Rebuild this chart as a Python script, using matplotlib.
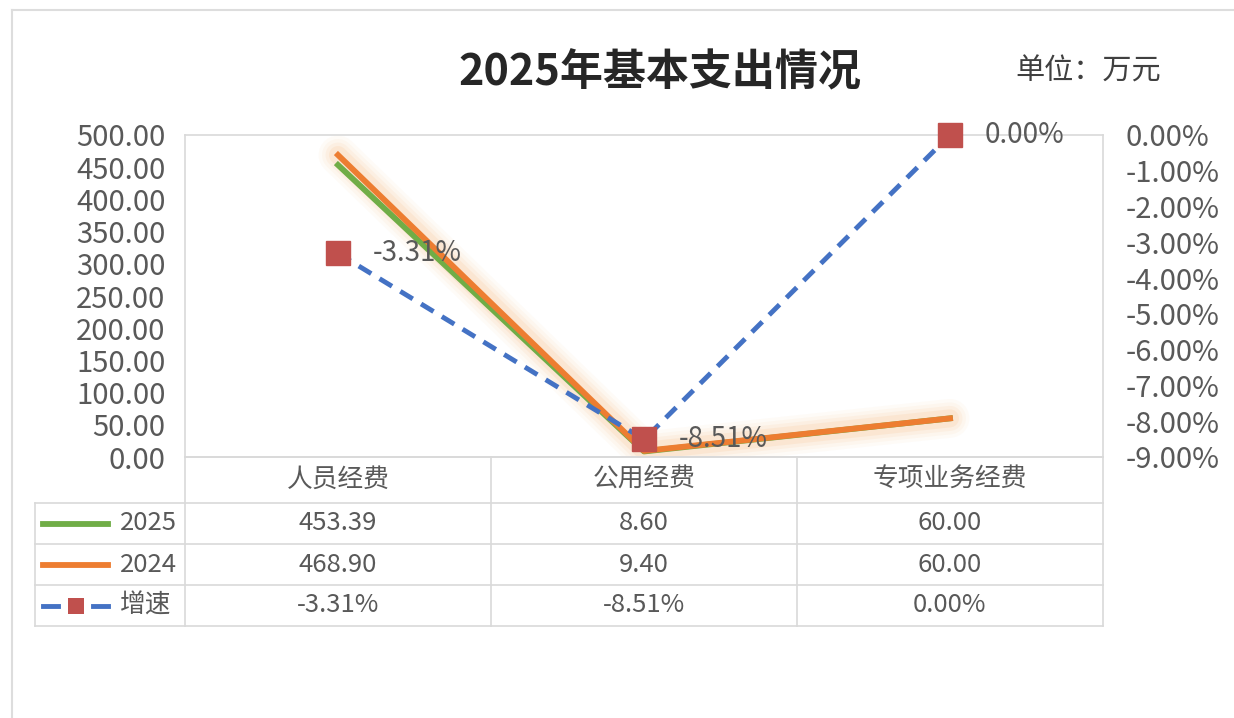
import numpy as np
import matplotlib
matplotlib.use("Agg")
import matplotlib.pyplot as plt
from matplotlib.lines import Line2D
from matplotlib.patches import Rectangle
from matplotlib.transforms import blended_transform_factory

plt.rcParams['font.family'] = ['Noto Sans CJK SC', 'DejaVu Sans']

categories = ['人员经费', '公用经费', '专项业务经费']
series_names = ['2025', '2024', '增速']
v2025 = [453.39, 8.60, 60.00]
v2024 = [468.90, 9.40, 60.00]
growth = [-3.31, -8.51, 0.00]
left_ticks = [0, 50, 100, 150, 200, 250, 300, 350, 400, 450, 500]
right_ticks = [-9, -8, -7, -6, -5, -4, -3, -2, -1, 0]
title = '2025年基本支出情况'
unit = '单位：万元'

GREEN = '#70AD47'
ORANGE = '#ED7D31'
BLUE = '#4472C4'
RED = '#C0504D'
TXT = '#595959'
GRID = '#D9D9D9'

W, H = 1234, 718
fig = plt.figure(figsize=(W / 100, H / 100), dpi=100)

def fx(px):
    return px / W

def fy(py):
    return 1 - py / H

# outer chart border
fig.add_artist(Line2D([fx(12), fx(12)], [fy(10), fy(718)], color='#DDDDDD', lw=1.5))
fig.add_artist(Line2D([fx(12), fx(1234)], [fy(10), fy(10)], color='#DDDDDD', lw=1.5))

L, R, T, B = 185, 1103, 135, 457
ax = fig.add_axes([fx(L), fy(B), (R - L) / W, (B - T) / H])
ax2 = ax.twinx()

x = np.arange(len(categories))
ax.set_xlim(-0.5, 2.5)
ax.set_ylim(0, 500)
ax2.set_ylim(-9, 0)

# glow
for lw, a in [(28, 0.04), (23, 0.05), (18, 0.07), (13, 0.1)]:
    ax.plot(x, v2024, color='#F4A04A', lw=lw, alpha=a, solid_capstyle='round', zorder=1)
ax.plot(x, v2025, color=GREEN, lw=4.2, zorder=2)
ax.plot(x, v2024, color=ORANGE, lw=4.2, zorder=3)

ax2.plot(x, growth, color=BLUE, lw=3.5, dashes=(3.0, 2.0), zorder=4)
ax2.plot(x, growth, ls='none', marker='s', ms=17, color=RED, mec=RED, zorder=5, clip_on=False)
for xi, g in zip(x, growth):
    ax2.annotate(f'{g:.2f}%', (xi, g), xytext=(25, 0), textcoords='offset points',
                 ha='left', va='center', fontsize=20, color=TXT, zorder=6)

ax.set_xticks([])
ax.set_yticks(left_ticks)
ax.set_yticklabels([f'{v:.2f}' for v in left_ticks])
ax2.set_yticks(right_ticks)
ax2.set_yticklabels([f'{v:.2f}%' for v in right_ticks])
ax.tick_params(axis='y', length=0, pad=14, labelsize=21, labelcolor=TXT)
ax2.tick_params(axis='y', length=0, pad=16, labelsize=21, labelcolor=TXT)
for sp in ax.spines.values():
    sp.set_color(GRID)
    sp.set_linewidth(1.2)
for sp in ax2.spines.values():
    sp.set_visible(False)

# data table
bt = blended_transform_factory(ax.transData, fig.transFigure)
rows_y = [457, 503, 544, 585, 626]
row_c = [(rows_y[i] + rows_y[i + 1]) / 2 for i in range(4)]

def fline(x0, x1, y0, y1, **kw):
    fig.add_artist(Line2D([fx(x0), fx(x1)], [fy(y0), fy(y1)], color=GRID, lw=1.2, **kw))

for yy in rows_y[1:]:
    fline(35, R, yy, yy)
fline(L, R, 457, 457)
fline(35, 35, 503, 626)
fline(L, L, 457, 626)
for b in [0.5, 1.5, 2.5]:
    fig.add_artist(Line2D([b, b], [fy(457), fy(626)], transform=bt, color=GRID, lw=1.2))

TS = 18.5
for xi, c in zip(x, categories):
    fig.text(xi, fy(row_c[0]), c, transform=bt, ha='center', va='center', fontsize=TS, color=TXT)
for xi, v in zip(x, v2025):
    fig.text(xi, fy(row_c[1]), f'{v:.2f}', transform=bt, ha='center', va='center', fontsize=TS, color=TXT)
for xi, v in zip(x, v2024):
    fig.text(xi, fy(row_c[2]), f'{v:.2f}', transform=bt, ha='center', va='center', fontsize=TS, color=TXT)
for xi, v in zip(x, growth):
    fig.text(xi, fy(row_c[3]), f'{v:.2f}%', transform=bt, ha='center', va='center', fontsize=TS, color=TXT)

# legend keys
fig.add_artist(Line2D([fx(43), fx(108)], [fy(row_c[1])] * 2, color=GREEN, lw=4.2))
fig.add_artist(Line2D([fx(43), fx(108)], [fy(row_c[2])] * 2, color=ORANGE, lw=4.2))
fig.add_artist(Line2D([fx(43), fx(58)], [fy(row_c[3])] * 2, color=BLUE, lw=3.5))
fig.add_artist(Line2D([fx(93), fx(108)], [fy(row_c[3])] * 2, color=BLUE, lw=3.5))
fig.add_artist(Rectangle((fx(68), fy(row_c[3] + 8)), 16 / W, 16 / H, color=RED, lw=0))
for yc, name in zip(row_c[1:], series_names):
    fig.text(fx(120), fy(yc), name, ha='left', va='center', fontsize=TS, color=TXT)

fig.text(fx(660), fy(72), title, ha='center', va='center', fontsize=31,
         fontweight='bold', color='#262626')
fig.text(fx(1088), fy(72), unit, ha='center', va='center', fontsize=21, color='#404040')

fig.savefig('out.png', dpi=100)
